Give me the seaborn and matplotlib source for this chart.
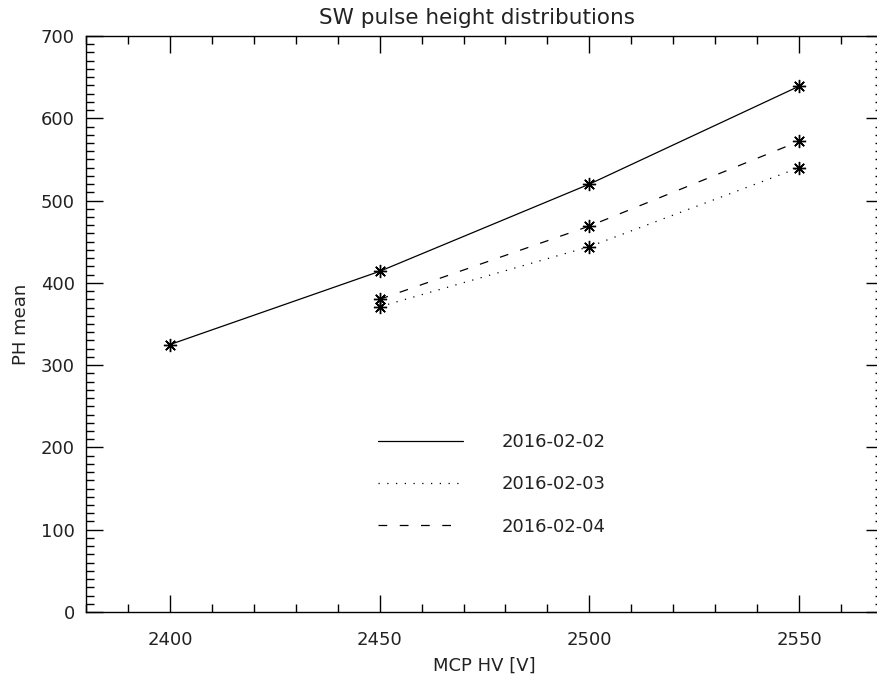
import numpy as np
import pandas as pd
import matplotlib
matplotlib.use("Agg")
import matplotlib.pyplot as plt
import seaborn as sns
from matplotlib.ticker import MultipleLocator

# ---- data ----
dates = ["2016-02-02", "2016-02-03", "2016-02-04"]
hv_0202 = [2400, 2450, 2500, 2550]
ph_0202 = [325, 414, 520, 639]
hv_0203 = [2450, 2500, 2550]
ph_0203 = [371, 444, 540]
hv_0204 = [2450, 2500, 2550]
ph_0204 = [380, 469, 572]

title = "SW pulse height distributions"
xlabel = "MCP HV [V]"
ylabel = "PH mean"

df = pd.concat([
    pd.DataFrame({"hv": hv_0202, "ph": ph_0202, "date": dates[0]}),
    pd.DataFrame({"hv": hv_0203, "ph": ph_0203, "date": dates[1]}),
    pd.DataFrame({"hv": hv_0204, "ph": ph_0204, "date": dates[2]}),
], ignore_index=True)

sns.set_theme(style="white")
plt.rcParams["font.family"] = ["DejaVu Sans"]

fig = plt.figure(figsize=(8.77, 6.79), dpi=100)
ax = fig.add_axes([86 / 877, (679 - 612) / 679, (883 - 86) / 877, (612 - 36) / 679])

lw = 0.9
dash_map = {dates[0]: "", dates[1]: (1, 6), dates[2]: (7, 10)}
marker_map = {d: (8, 2, 0) for d in dates}
sns.lineplot(data=df, x="hv", y="ph", style="date", dashes=dash_map,
             markers=marker_map, color="black", linewidth=lw,
             markersize=9.5, ax=ax, legend=True,
             estimator=None, sort=False)
for ln in ax.lines:
    ln.set_markeredgecolor("black")
    ln.set_markerfacecolor("black")
    ln.set_markeredgewidth(1.0)

ax.set_xlim(2380, 2570)
ax.set_ylim(0, 700)
ax.xaxis.set_major_locator(MultipleLocator(50))
ax.xaxis.set_minor_locator(MultipleLocator(10))
ax.yaxis.set_major_locator(MultipleLocator(100))
ax.yaxis.set_minor_locator(MultipleLocator(10))
ax.tick_params(which="both", direction="in", top=True, right=True,
               bottom=True, left=True,
               color="black", width=1.0, labelsize=13, labelcolor="#222222")
ax.tick_params(which="major", length=12, pad=8)
ax.tick_params(axis="x", which="major", pad=14)
ax.tick_params(which="minor", length=6)
for s in ax.spines.values():
    s.set_color("black")
    s.set_linewidth(1.0)

ax.set_xlabel(xlabel, fontsize=13, color="#222222", labelpad=5)
ax.set_ylabel(ylabel, fontsize=13, color="#222222", labelpad=8)
fig.text((86 + 868) / 2 / 877, 1 - 18 / 679, title, ha="center", va="center",
         fontsize=15.5, color="#222222")

leg = ax.legend(loc="upper left", bbox_to_anchor=(0.366, 0.311), frameon=False,
                handlelength=4.7, handletextpad=2.15, labelspacing=1.35,
                fontsize=13, borderaxespad=0, borderpad=0, title=None)
for h in leg.legend_handles:
    h.set_marker("")
    h.set_color("black")
for t in leg.get_texts():
    t.set_color("#222222")

fig.savefig("out.png", dpi=100, facecolor="white")
